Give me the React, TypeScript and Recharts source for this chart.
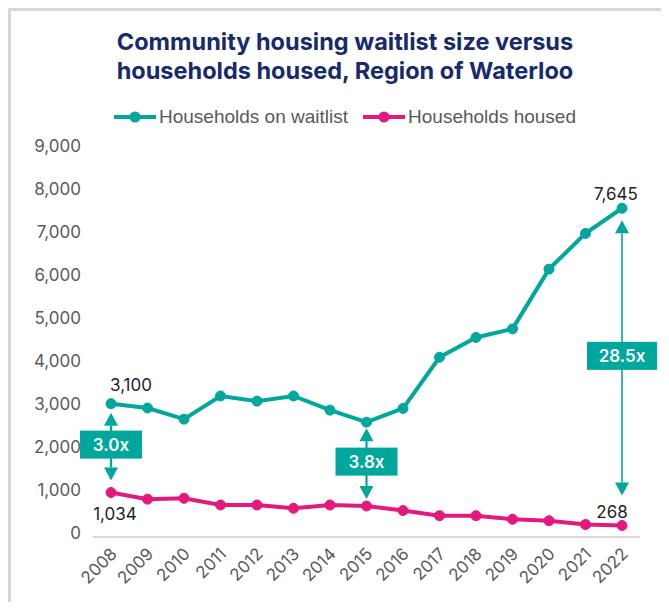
import { LineChart, Line, XAxis, YAxis, ReferenceLine, LabelList } from "recharts";

const TEAL = "#00a79d";
const PINK = "#e3197e";
const NAVY = "#172a6b";

const YEARS = ["2008", "2009", "2010", "2011", "2012", "2013", "2014", "2015", "2016", "2017", "2018", "2019", "2020", "2021", "2022"];
const WAITLIST = [3100, 3000, 2740, 3280, 3160, 3280, 2950, 2670, 2990, 4180, 4640, 4840, 6230, 7060, 7645];
const HOUSED = [1034, 880, 900, 744, 744, 667, 744, 720, 615, 495, 495, 412, 379, 290, 268];
const Y_TICKS = [0, 1000, 2000, 3000, 4000, 5000, 6000, 7000, 8000, 9000];

const SERIES = [
  { key: "waitlist", name: "Households on waitlist", color: TEAL },
  { key: "housed", name: "Households housed", color: PINK },
];

// ratio call-outs between the two lines
const RATIOS = [
  { year: "2008", label: "3.0x" },
  { year: "2015", label: "3.8x" },
  { year: "2022", label: "28.5x" },
];

const RATIO_STYLE: Record<string, { gapTop: number; gapBottom: number; boxW: number; lineW: number }> = {
  "2008": { gapTop: 9, gapBottom: 12, boxW: 62, lineW: 2.2 },
  "2015": { gapTop: 6, gapBottom: 7, boxW: 62, lineW: 2.2 },
  "2022": { gapTop: 12, gapBottom: 30, boxW: 70, lineW: 1.6 },
};

const data = YEARS.map((year, i) => ({ year, waitlist: WAITLIST[i], housed: HOUSED[i] }));

const FONT = "Inter, 'Noto Sans', sans-serif";

function RatioArrow(props: any) {
  const { x1, y1, x2, y2, text, gapTop, gapBottom, boxW, lineW } = props;
  const x = x1;
  const top = Math.min(y1, y2) + gapTop;
  const bottom = Math.max(y1, y2) - gapBottom;
  const mid = (top + bottom) / 2 - 2;
  const head = 13;
  const hw = 7;
  return (
    <g>
      <line x1={x} y1={top + head} x2={x} y2={bottom - head} stroke={TEAL} strokeWidth={lineW} />
      <polygon points={`${x},${top} ${x - hw},${top + head} ${x + hw},${top + head}`} fill={TEAL} />
      <polygon points={`${x},${bottom} ${x - hw},${bottom - head} ${x + hw},${bottom - head}`} fill={TEAL} />
      <rect x={x - boxW / 2} y={mid - 14} width={boxW} height={28} fill={TEAL} />
      <text x={x} y={mid} dy="0.36em" textAnchor="middle" fill="#fff" fontSize={17} fontWeight={600} fontFamily={FONT}>
        {text}
      </text>
    </g>
  );
}

const XTick = ({ x, y, payload }: any) => (
  <text
    x={x + 7}
    y={y + 10}
    transform={`rotate(-45 ${x + 7} ${y + 10})`}
    textAnchor="end"
    fill="#5a5a5a"
    fontSize={17}
    fontFamily={FONT}
  >
    {payload.value}
  </text>
);

const edgeLabel = (offsets: Record<number, [number, number]>) => (props: any) => {
  const { x, y, value, index } = props;
  const off = offsets[index];
  if (!off) return null;
  return (
    <text x={x + off[0]} y={y + off[1]} dy="0.36em" textAnchor="middle" fill="#1e1e1e" fontSize={17} fontFamily={FONT}>
      {Number(value).toLocaleString("en-US")}
    </text>
  );
};

export default function App() {
  const last = YEARS.length - 1;
  return (
    <div
      style={{
        position: "relative",
        width: 653,
        height: 594,
        boxSizing: "border-box",
        borderTop: "3px solid #d6d6d6",
        borderLeft: "3px solid #d6d6d6",
        overflow: "hidden",
        fontFamily: FONT,
      }}
    >
      <div
        style={{
          position: "absolute",
          left: 34,
          top: 16,
          width: 600,
          textAlign: "center",
          color: NAVY,
          fontWeight: 700,
          fontSize: 23.5,
          lineHeight: "29px",
        }}
      >
        Community housing waitlist size versus
        <br />
        households housed, Region of Waterloo
      </div>
      <div
        style={{
          position: "absolute",
          left: 34,
          top: 94,
          width: 600,
          height: 24,
          display: "flex",
          justifyContent: "center",
          alignItems: "center",
          gap: 15,
          fontFamily: "'Liberation Sans', Arial, sans-serif",
          fontSize: 19,
          color: "#595959",
        }}
      >
        {SERIES.map((s) => (
          <div key={s.key} style={{ display: "flex", alignItems: "center", gap: 3 }}>
            <svg width={42} height={14}>
              <line x1={0} y1={7} x2={42} y2={7} stroke={s.color} strokeWidth={4} />
              <circle cx={21} cy={7} r={5.5} fill={s.color} />
            </svg>
            <span>{s.name}</span>
          </div>
        ))}
      </div>
      <div style={{ position: "absolute", left: -3, top: -3 }}>
        <LineChart width={653} height={594} data={data} margin={{ top: 142, right: 21, bottom: 0, left: 0 }}>
          <XAxis
            dataKey="year"
            padding={{ left: 18, right: 18 }}
            axisLine={{ stroke: "#d9d9d9", strokeWidth: 2 }}
            tickLine={false}
            height={65}
            interval={0}
            tick={<XTick />}
          />
          <YAxis
            width={85}
            domain={[0, 9000]}
            ticks={Y_TICKS}
            axisLine={false}
            tickLine={false}
            tickMargin={6}
            tickFormatter={(v: number) => v.toLocaleString("en-US")}
            tick={{ fill: "#5a5a5a", fontSize: 17, fontFamily: FONT, dy: -4 }}
          />
          <Line
            dataKey="waitlist"
            name={SERIES[0].name}
            stroke={TEAL}
            strokeWidth={4}
            dot={{ r: 5, fill: TEAL, stroke: TEAL, strokeWidth: 1 }}
            isAnimationActive={false}
          >
            <LabelList content={edgeLabel({ 0: [20, -19], [last]: [-6, -14] })} />
          </Line>
          <Line
            dataKey="housed"
            name={SERIES[1].name}
            stroke={PINK}
            strokeWidth={4}
            dot={{ r: 5, fill: PINK, stroke: PINK, strokeWidth: 1 }}
            isAnimationActive={false}
          >
            <LabelList content={edgeLabel({ 0: [4, 21], [last]: [-10, -14] })} />
          </Line>
          {RATIOS.map((r) => {
            const i = YEARS.indexOf(r.year);
            const st = RATIO_STYLE[r.year];
            return (
              <ReferenceLine
                key={r.year}
                segment={[
                  { x: r.year, y: WAITLIST[i] },
                  { x: r.year, y: HOUSED[i] },
                ]}
                shape={(p: any) => <RatioArrow {...p} {...st} text={r.label} />}
              />
            );
          })}
        </LineChart>
      </div>
    </div>
  );
}
